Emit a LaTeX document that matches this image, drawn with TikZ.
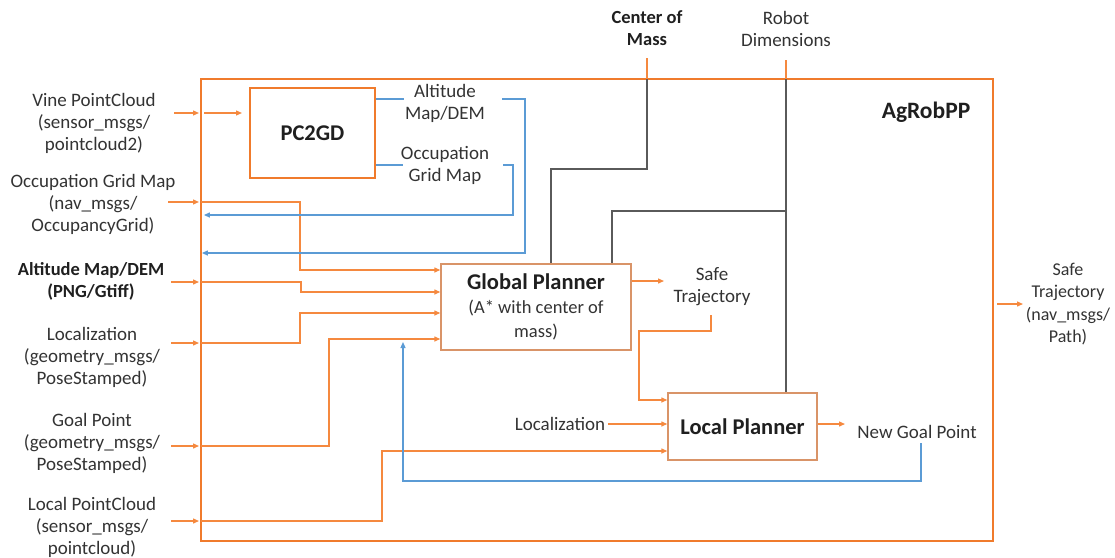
\documentclass[tikz,border=0pt]{standalone}
\usepackage{fontspec}
\setmainfont{Carlito}
\usetikzlibrary{arrows.meta}
\definecolor{frameorange}{HTML}{F07B2C}
\definecolor{lineorange}{HTML}{F5893F}
\definecolor{boxbrown}{HTML}{D99468}
\definecolor{linkblue}{HTML}{5B9BD5}
\definecolor{linkgrey}{HTML}{5A5A5A}
\definecolor{textgrey}{HTML}{333333}

\begin{document}
\begin{tikzpicture}[x=1pt,y=-1pt,
  txt/.style={font=\fontsize{19}{22}\selectfont, text=textgrey, align=center, inner sep=0pt},
  btxt/.style={font=\fontsize{18.5}{22}\selectfont\bfseries, text=black!88, align=center, inner sep=0pt},
  title/.style={font=\fontsize{22.5}{26}\selectfont\bfseries, text=black!88, inner sep=0pt},
  tip/.style={-{Triangle[length=6pt,width=5pt]}},
  oline/.style={draw=lineorange, line width=1.3pt},
  oarr/.style={oline, tip},
  bline/.style={draw=linkblue, line width=1.2pt},
  barr/.style={bline, tip},
  kline/.style={draw=linkgrey, line width=1.5pt},
  planner/.style={draw=boxbrown, line width=1.4pt, fill=white, inner sep=0pt, align=center},
]
\useasboundingbox (0,0) rectangle (1115,557);

% main frame
\node[draw=frameorange, line width=2.2pt, minimum width=792pt, minimum height=462pt, inner sep=0pt] (frame) at (597,310) {};
\node[title, font=\fontsize{23.5}{26}\selectfont\bfseries] (agr) at (926,112) {AgRobPP};

% internal blocks
\node[draw=frameorange, line width=2pt, minimum width=125pt, minimum height=90pt, inner sep=0pt, title] (pc2gd) at (312.5,133) {PC2GD};
\node[planner, minimum width=190pt, minimum height=86pt, text=textgrey,
      font=\fontsize{18.5}{24}\selectfont] (gp) at (536,307)
  {{\fontsize{22.5}{24}\selectfont\bfseries\color{black!88}Global Planner}\\(A* with center of\\mass)};
\node[planner, minimum width=149pt, minimum height=67pt, title] (lp) at (742.5,426.5) {Local Planner};

% external inputs
\node[txt] (vine) at (94,123) {Vine PointCloud\\(sensor\_msgs/\\pointcloud2)};
\node[txt] (occ) at (93,204) {Occupation Grid Map\\(nav\_msgs/\\OccupancyGrid)};
\node[btxt] (alt) at (91,281) {Altitude Map/DEM\\(PNG/Gtiff)};
\node[txt] (loc) at (92,357) {Localization\\(geometry\_msgs/\\PoseStamped)};
\node[txt] (goal) at (92,443) {Goal Point\\(geometry\_msgs/\\PoseStamped)};
\node[txt] (lpc) at (92,527) {Local PointCloud\\(sensor\_msgs/\\pointcloud)};
\node[btxt] (com) at (647,28) {Center of\\Mass};
\node[txt] (dims) at (786,29) {Robot\\Dimensions};

% internal and output labels
\node[txt] (altmap) at (445,103) {Altitude\\Map/DEM};
\node[txt] (occmap) at (445,165) {Occupation\\Grid Map};
\node[txt] (safe) at (712,287) {Safe\\Trajectory};
\node[txt] (lloc) at (560,424) {Localization};
\node[txt] (ngp) at (917,432) {New Goal Point};
\node[txt, font=\fontsize{18}{22.5}\selectfont] (out) at (1068,304) {Safe\\Trajectory\\(nav\_msgs/\\Path)};

% ports on the frame
\coordinate (fVine) at (201,113);
\coordinate (fOcc) at (201,202);
\coordinate (fAlt) at (201,282);
\coordinate (fLoc) at (201,343);
\coordinate (fGoal) at (201,446);
\coordinate (fLpc) at (201,521);
\coordinate (fCom) at (647,79);
\coordinate (fDims) at (786,79);
\coordinate (fOut) at (993,304);

% inputs entering the frame
\draw[oarr] (174,113) -- ([xshift=-2pt]fVine);
\draw[oarr] (168,202) -- ([xshift=-2pt]fOcc);
\draw[oarr] (171,282) -- ([xshift=-2pt]fAlt);
\draw[oarr] (171,343) -- ([xshift=-2pt]fLoc);
\draw[oarr] (171,446) -- ([xshift=-2pt]fGoal);
\draw[oarr] (171,521) -- ([xshift=-2pt]fLpc);
\draw[oline] (647,58) -- (fCom);
\draw[oline] (786,60) -- (fDims);

% routing inside the frame
\draw[oarr] ([xshift=3pt]fVine) -- ([xshift=-7pt]pc2gd.west |- fVine);
\draw[oarr] (fOcc) -- (300,202) -- (300,270) -- (gp.west |- 0,270);
\draw[oarr] (fAlt) -- (301,282) -- (301,292) -- (gp.west |- 0,292);
\draw[oarr] (fLoc) -- (300,343) -- (300,313) -- (gp.west |- 0,313);
\draw[oarr] (fGoal) -- (329,446) -- (329,339) -- (gp.west |- 0,339);
\draw[oarr] (fLpc) -- (382,521) -- (382,451) -- (lp.west |- 0,451);

% PC2GD outputs fed back to the frame
\draw[bline] (pc2gd.east |- 0,99) -- (404,99);
\draw[barr] (502,99) -- (525,99) -- (525,253) -- ([xshift=2pt]frame.west |- 0,253);
\draw[bline] (pc2gd.east |- 0,165) -- (403,165);
\draw[barr] (503,165) -- (513,165) -- (513,215) -- ([xshift=4pt]frame.west |- 0,215);

% robot parameters
\draw[kline] (fCom) -- (647,169) -- (551,169) -- (551,0 |- gp.north);
\draw[kline] (fDims) -- (786,0 |- lp.north);
\draw[kline] (786,211) -- (612,211) -- (612,0 |- gp.north);

% planners
\draw[oarr] (gp.east |- 0,281) -- (664,281);
\draw[oarr] (711,315) -- (711,331) -- (639,331) -- (639,400) -- (lp.west |- 0,400);
\draw[oarr] (608,424) -- (lp.west |- 0,424);
\draw[oarr] (lp.east |- 0,424) -- (845,424);
\draw[barr] (921,443) -- (921,481) -- (403,481) -- (403,342);

% output
\draw[oarr] ([xshift=4pt]fOut) -- (1023,304);
\end{tikzpicture}
\end{document}
